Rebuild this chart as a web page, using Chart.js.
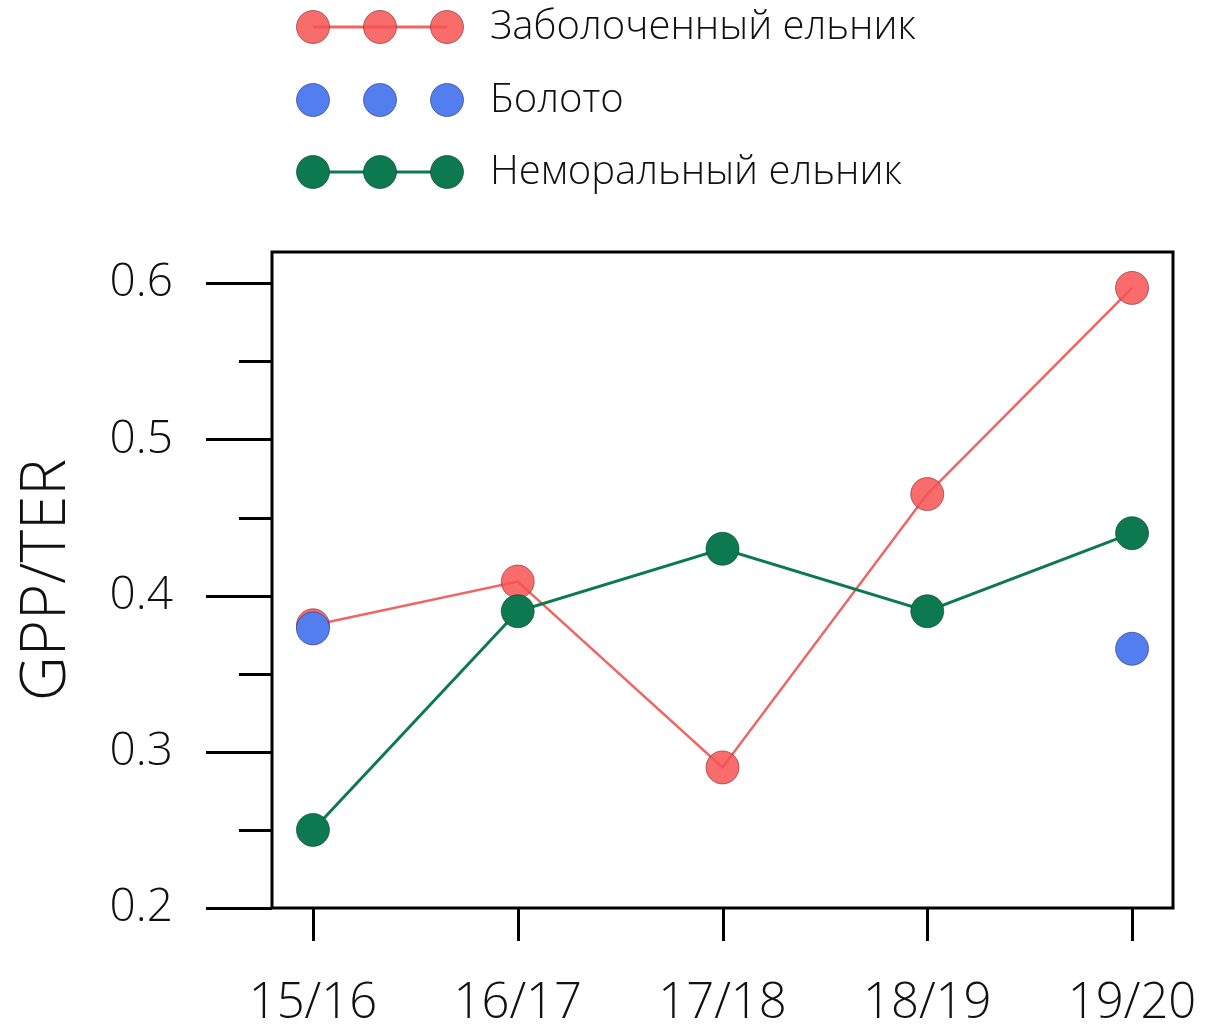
<!DOCTYPE html>
<html>
<head>
<meta charset="utf-8">
<script src="https://cdn.jsdelivr.net/npm/chart.js@4.4.1/dist/chart.umd.min.js"></script>
<style>
  html, body { margin: 0; padding: 0; background: #ffffff; }
  #wrap { width: 1205px; height: 1031px; position: relative; }
</style>
</head>
<body>
<div id="wrap"><canvas id="chart" width="1205" height="1031"></canvas></div>
<script>
// Seasons on the x axis
const seasons = ['15/16', '16/17', '17/18', '18/19', '19/20'];
// GPP/TER ratio per season
const swampSpruce = [0.381, 0.409, 0.290, 0.465, 0.597];
const bog = [0.379, null, null, null, 0.366];
const nemoralSpruce = [0.250, 0.390, 0.430, 0.390, 0.440];
// Axis ticks
const yMajorTicks = [0.2, 0.3, 0.4, 0.5, 0.6];
const yMinorTicks = [0.25, 0.35, 0.45, 0.55];
const seriesNames = ['Заболоченный ельник', 'Болото', 'Неморальный ельник'];

const FONT = "'Open Sans', 'DejaVu Sans', sans-serif";
const RED = 'rgba(247, 82, 82, 0.85)';
const RED_LINE = 'rgba(240, 100, 100, 1)';
const BLUE = 'rgb(82, 126, 240)';
const GREEN = 'rgb(12, 121, 80)';

const toPoints = arr => arr.map((v, i) => ({ x: i, y: v }));

const axesAndLegend = {
  id: 'axesAndLegend',
  afterDraw(chart) {
    const ctx = chart.ctx;
    const a = chart.chartArea;
    const xs = chart.scales.x, ys = chart.scales.y;
    ctx.save();
    ctx.strokeStyle = '#000';
    ctx.lineWidth = 3;
    ctx.lineCap = 'butt';
    // plot frame
    ctx.strokeRect(a.left, a.top, a.right - a.left, a.bottom - a.top);
    // y ticks (outside)
    ctx.beginPath();
    yMajorTicks.forEach(v => {
      const y = Math.round(ys.getPixelForValue(v)) + 0.5;
      ctx.moveTo(a.left - 66, y); ctx.lineTo(a.left, y);
    });
    yMinorTicks.forEach(v => {
      const y = Math.round(ys.getPixelForValue(v)) + 0.5;
      ctx.moveTo(a.left - 33, y); ctx.lineTo(a.left, y);
    });
    // x ticks
    seasons.forEach((s, i) => {
      const x = Math.round(xs.getPixelForValue(i)) + 0.5;
      ctx.moveTo(x, a.bottom); ctx.lineTo(x, a.bottom + 33);
    });
    ctx.stroke();

    // tick labels
    ctx.fillStyle = '#111';
    ctx.font = '300 46px ' + FONT;
    ctx.textAlign = 'right';
    ctx.textBaseline = 'middle';
    yMajorTicks.forEach(v => {
      ctx.fillText(v.toFixed(1), 173, ys.getPixelForValue(v));
    });
    ctx.font = '300 49px ' + FONT;
    ctx.textAlign = 'center';
    seasons.forEach((s, i) => {
      ctx.fillText(s, xs.getPixelForValue(i), 1004);
    });

    // y axis title
    ctx.save();
    ctx.translate(47, 580);
    ctx.rotate(-Math.PI / 2);
    ctx.font = '300 62px ' + FONT;
    ctx.fillText('GPP/TER', 0, 0);
    ctx.restore();

    // legend
    const rows = [
      { y: 27, fill: RED, line: RED_LINE, stroke: 'rgba(120,40,40,0.6)' },
      { y: 100, fill: BLUE, line: null, stroke: 'rgba(40,50,120,0.6)' },
      { y: 172, fill: GREEN, line: GREEN, stroke: 'rgba(10,60,40,0.6)' }
    ];
    const mx = [313, 380, 447];
    rows.forEach((r, k) => {
      if (r.line) {
        ctx.strokeStyle = r.line;
        ctx.lineWidth = 3;
        ctx.beginPath();
        ctx.moveTo(mx[0], r.y); ctx.lineTo(mx[2], r.y);
        ctx.stroke();
      }
      mx.forEach(x => {
        ctx.beginPath();
        ctx.arc(x, r.y, 16.5, 0, Math.PI * 2);
        ctx.fillStyle = r.fill;
        ctx.fill();
        ctx.lineWidth = 1;
        ctx.strokeStyle = r.stroke;
        ctx.stroke();
      });
      ctx.fillStyle = '#111';
      ctx.font = '300 40px ' + FONT;
      ctx.textAlign = 'left';
      ctx.textBaseline = 'middle';
      ctx.fillText(seriesNames[k], 490, r.y + 1);
    });
    ctx.restore();
  }
};

new Chart(document.getElementById('chart'), {
  type: 'line',
  data: {
    datasets: [
      {
        label: seriesNames[0],
        data: toPoints(swampSpruce),
        borderColor: RED_LINE,
        borderWidth: 2.5,
        backgroundColor: RED,
        pointBackgroundColor: RED,
        pointBorderColor: 'rgba(120,40,40,0.6)',
        pointBorderWidth: 1,
        pointRadius: 16.5,
        order: 3
      },
      {
        label: seriesNames[1],
        data: toPoints(bog),
        showLine: false,
        pointBackgroundColor: BLUE,
        pointBorderColor: 'rgba(40,50,120,0.6)',
        pointBorderWidth: 1,
        pointRadius: 16.5,
        order: 2
      },
      {
        label: seriesNames[2],
        data: toPoints(nemoralSpruce),
        borderColor: GREEN,
        borderWidth: 3,
        pointBackgroundColor: GREEN,
        pointBorderColor: 'rgba(10,60,40,0.6)',
        pointBorderWidth: 1,
        pointRadius: 16.5,
        order: 1
      }
    ]
  },
  options: {
    responsive: false,
    animation: false,
    events: [],
    layout: { padding: { top: 252, right: 32, left: 0, bottom: 0 } },
    plugins: { legend: { display: false }, tooltip: { enabled: false } },
    scales: {
      x: {
        type: 'linear',
        min: -0.2,
        max: 4.2,
        grid: { display: false },
        border: { display: false },
        ticks: { display: false },
        afterBuildTicks: s => { s.ticks = seasons.map((_, i) => ({ value: i })); },
        afterFit: s => { s.height = 123; }
      },
      y: {
        min: 0.2,
        max: 0.62,
        grid: { display: false },
        border: { display: false },
        ticks: { display: false },
        afterBuildTicks: s => { s.ticks = yMajorTicks.map(v => ({ value: v })); },
        afterFit: s => { s.width = 272; }
      }
    }
  },
  plugins: [axesAndLegend]
});
</script>
</body>
</html>
